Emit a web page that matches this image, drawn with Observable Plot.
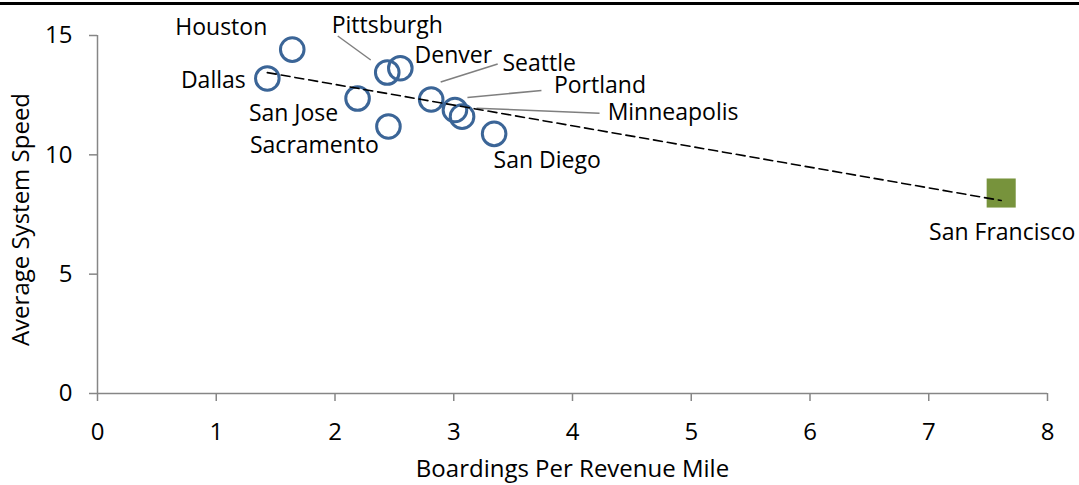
<!DOCTYPE html>
<html><head><meta charset="utf-8">
<script src="https://cdn.jsdelivr.net/npm/d3@7"></script>
<script src="https://cdn.jsdelivr.net/npm/@observablehq/plot@0.6"></script>
<style>
html,body{margin:0;padding:0;background:#fff;}
#wrap{position:relative;width:1079px;height:485px;overflow:hidden;}
#topline{position:absolute;left:0;top:2px;width:1079px;height:3px;background:#000;}
</style></head><body><div id="wrap"><div id="topline"></div></div>
<script>
// ---- data ----
const cities    = ["Houston","Dallas","Pittsburgh","Denver","San Jose","Sacramento","Seattle","Portland","Minneapolis","San Diego","San Francisco"];
const boardings = [1.64, 1.43, 2.44, 2.55, 2.19, 2.45, 2.81, 3.01, 3.07, 3.34, 7.61];
const speeds    = [14.41, 13.20, 13.45, 13.63, 12.36, 11.19, 12.32, 11.88, 11.60, 10.88, 8.40];
const highlight = "San Francisco";
const xTicks = [0,1,2,3,4,5,6,7,8];
const yTicks = [0,5,10,15];
const xTitle = "Boardings Per Revenue Mile";
const yTitle = "Average System Speed";

// ---- label layout (pixel offsets from each point) ----
const labelDx = [-71, -54, 0, 53, -64, -74, 108, 145, 211, 53, 1];
const labelDy = [-22, 2, -47, -13, 15, 19, -36, -24, -4, 27, 40];
const leaders = [
  {city:"Pittsburgh",  sx:-16, sy:-12, ex:-49, ey:-36},
  {city:"Seattle",     sx:10,  sy:-17, ex:67,  ey:-35},
  {city:"Portland",    sx:13,  sy:-12, ex:87,  ey:-19},
  {city:"Minneapolis", sx:15,  sy:-8,  ex:138, ey:-3}
];

const data = cities.map((c,i)=>({city:c, x:boardings[i], y:speeds[i]}));
const circles = data.filter(d=>d.city!==highlight);
const squares = data.filter(d=>d.city===highlight);

const font = "'Open Sans', sans-serif";
const fsLabel = 23, fsTick = 24, fsTitle = 24;

const leaderMark = (index, scales) => {
  const g = d3.create("svg:g").attr("stroke","#7f7f7f").attr("stroke-width",1.5);
  for (const l of leaders) {
    const d = data.find(e=>e.city===l.city);
    const px = scales.x(d.x), py = scales.y(d.y);
    g.append("line").attr("x1",px+l.sx).attr("y1",py+l.sy).attr("x2",px+l.ex).attr("y2",py+l.ey);
  }
  return g.node();
};

const chart = Plot.plot({
  width: 1079, height: 485,
  marginLeft: 97, marginRight: 32, marginTop: 35, marginBottom: 92,
  style: {fontFamily: font, fontSize: fsTick+"px", color:"#000", background:"transparent"},
  x: {domain:[0,8]},
  y: {domain:[0,15]},
  marks: [
    Plot.ruleX([0], {stroke:"#868686", strokeWidth:1.5}),
    Plot.ruleY([0], {stroke:"#868686", strokeWidth:1.5}),
    Plot.axisX({ticks: xTicks, tickSize: 8, tickPadding: 21, stroke:"#868686", strokeOpacity:1, strokeWidth:1.5, fontSize: fsTick, label: null}),
    Plot.axisY({ticks: yTicks, tickSize: 8, tickPadding: 17, stroke:"#868686", strokeOpacity:1, strokeWidth:1.5, fontSize: fsTick, label: null}),
    Plot.text([xTitle], {frameAnchor:"bottom", lineAnchor:"middle", textAnchor:"middle", dy:76, fontSize: fsTitle, fill:"#000"}),
    Plot.text([yTitle], {frameAnchor:"left", lineAnchor:"middle", textAnchor:"middle", dx:-76, dy:5, rotate:-90, fontSize: fsTitle, fill:"#000"}),
    leaderMark,
    Plot.dot(circles, {x:"x", y:"y", r:11.8, stroke:"#3b6597", strokeWidth:3, fill:"none"}),
    Plot.dot(squares, {x:"x", y:"y", symbol:"square", r:16.4, fill:"#77933C", stroke:"none"}),
    Plot.linearRegressionY(data, {x:"x", y:"y", ci:0, stroke:"#000", strokeWidth:1.6, strokeDasharray:"9,5"}),
    ...data.map((d,i)=>Plot.text([d], {x:"x", y:"y", text:"city", dx:labelDx[i], dy:labelDy[i], fontSize: fsLabel, fill:"#000"}))
  ]
});
document.getElementById("wrap").appendChild(chart);
</script></body></html>
